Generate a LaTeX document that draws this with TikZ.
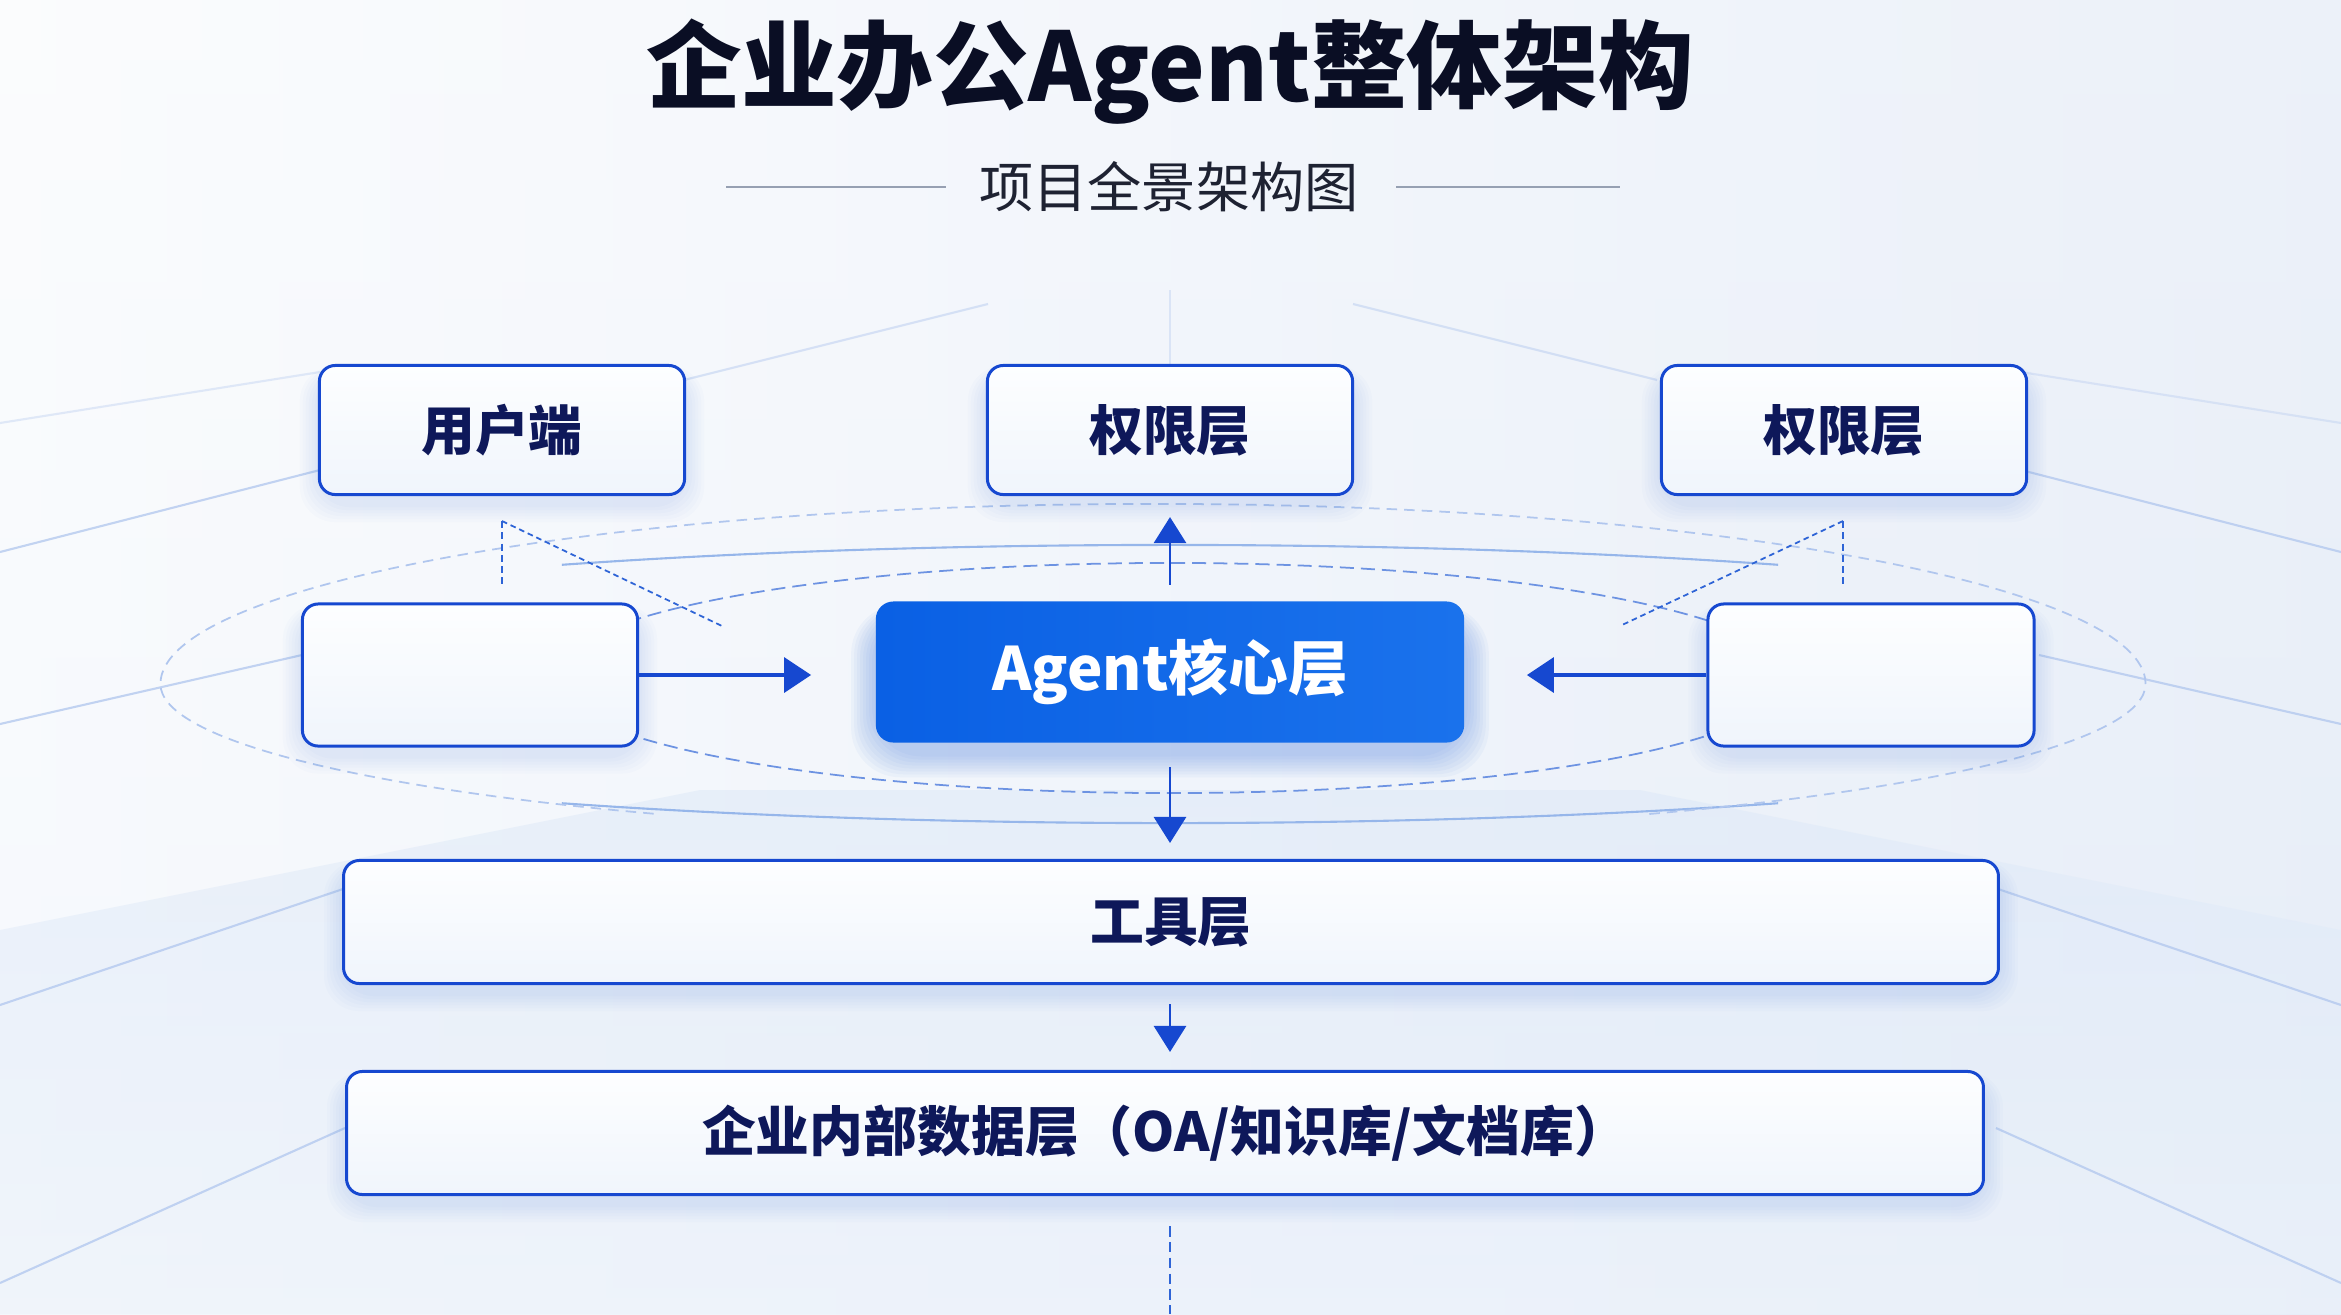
\documentclass[tikz,border=0pt]{standalone}
\usepackage{fontspec}
\setmainfont{Noto Sans CJK SC}
\usetikzlibrary{arrows.meta}
\usetikzlibrary{calc}
\pgfdeclarelayer{fond}
\pgfdeclarelayer{halo}
\pgfsetlayers{fond,halo,main}

\definecolor{bleu}{RGB}{22,72,208}
\definecolor{bleucoeur}{RGB}{10,96,228}
\definecolor{bleucoeurclair}{RGB}{26,114,236}
\definecolor{marine}{RGB}{14,24,90}
\definecolor{noirtitre}{RGB}{10,14,36}
\definecolor{grissous}{RGB}{30,34,50}
\definecolor{gristrait}{RGB}{150,160,178}
\definecolor{bleuclair}{RGB}{176,198,238}
\definecolor{bleuovale}{RGB}{150,182,234}
\definecolor{bleupoint}{RGB}{46,100,214}
\definecolor{fondhaut}{RGB}{247,249,252}
\definecolor{fondbas}{RGB}{236,242,250}
\definecolor{fonddroite}{RGB}{226,234,247}
\definecolor{sol}{RGB}{220,232,248}
\definecolor{boitehaut}{RGB}{253,254,255}
\definecolor{boitebas}{RGB}{240,245,252}
\definecolor{halobleu}{RGB}{80,130,225}

\begin{document}
\begin{tikzpicture}[x=0.01cm,y=-0.01cm]
\tikzstyle{couche}=[rectangle,draw=bleu,line width=0.85pt,rounded corners=4.5pt,
top color=boitehaut,bottom color=boitebas,text=marine,inner sep=0pt,
font=\bfseries\fontsize{15.3pt}{18pt}\selectfont]
\tikzstyle{coeur}=[rectangle,rounded corners=5pt,left color=bleucoeur,right color=bleucoeurclair,
text=white,inner sep=0pt,font=\bfseries\fontsize{17pt}{20pt}\selectfont]
\tikzstyle{rayon}=[bleuclair,line width=0.6pt,opacity=0.75]
\tikzstyle{pointille}=[bleupoint,line width=0.5pt,dash pattern=on 2pt off 1.2pt]

\useasboundingbox (0,0) rectangle (2341,1314);

% fond, rayons et ovales
\begin{pgfonlayer}{fond}
\shade[top color=fondhaut,bottom color=fondbas] (0,0) rectangle (2341,1314);
\shade[left color=white,right color=fonddroite,opacity=0.5] (0,0) rectangle (2341,1314);
\shade[top color=sol,bottom color=fondbas,opacity=0.5]
  (0,930) -- (700,790) -- (1640,790) -- (2341,930) -- (2341,1314) -- (0,1314) -- cycle;
\foreach \ya/\xb/\yb in {552/320/470, 724/302/655, 1005/343/889, 1283/345/1128}{
  \draw[rayon] (0,\ya) -- (\xb,\yb);
  \draw[rayon] (2341,\ya) -- (2341-\xb,\yb);
}
\draw[rayon,opacity=.35] (0,423) -- (320,372);
\draw[rayon,opacity=.35] (2341,423) -- (2021,372);
\draw[rayon,opacity=.45] (684,380) -- (988,304);
\draw[rayon,opacity=.45] (1657,380) -- (1353,304);
\draw[rayon,opacity=.35] (1170,290) -- (1170,366);
\draw[bleuovale,line width=0.6pt] (1170,684) ++(59:11.8cm and 1.39cm)
  arc[start angle=59,end angle=121,x radius=11.8cm,y radius=1.39cm];
\draw[bleuovale,line width=0.6pt] (1170,684) ++(239:11.8cm and 1.39cm)
  arc[start angle=239,end angle=301,x radius=11.8cm,y radius=1.39cm];
\draw[bleuclair,line width=0.5pt,dash pattern=on 3pt off 2pt] (1153,684) ++(0:9.92cm and 1.8cm)
  arc[start angle=0,end angle=180,x radius=9.92cm,y radius=1.8cm]
  arc[start angle=180,end angle=240,x radius=9.92cm,y radius=1.5cm];
\draw[bleuclair,line width=0.5pt,dash pattern=on 3pt off 2pt] (1153,684) ++(300:9.92cm and 1.5cm)
  arc[start angle=300,end angle=360,x radius=9.92cm,y radius=1.5cm];
\draw[bleupoint!70!white,line width=0.5pt,dash pattern=on 4pt off 2pt] (1170,678)
  ellipse[x radius=6.2cm,y radius=1.15cm];
\end{pgfonlayer}

% titre
\node[text=noirtitre,font=\bfseries\fontsize{27.2pt}{32pt}\selectfont] (titre) at (1170,72) {企业办公Agent整体架构};
\node[text=grissous,inner sep=0pt,font=\fontsize{15.4pt}{18pt}\selectfont] (soustitre) at (1169,187) {项目全景架构图};
\draw[gristrait,line width=0.6pt] ([xshift=-0.33cm]soustitre.west) -- ++(-220,0);
\draw[gristrait,line width=0.6pt] ([xshift=0.37cm]soustitre.east) -- ++(224,0);

% boites
\node[couche,minimum width=3.65cm,minimum height=1.29cm] (user) at (502,430) {用户端};
\node[couche,minimum width=3.65cm,minimum height=1.29cm] (permmid) at (1170,430) {权限层};
\node[couche,minimum width=3.65cm,minimum height=1.29cm] (permright) at (1844,430) {权限层};
\node[couche,minimum width=3.35cm,minimum height=1.42cm] (left) at (470,675) {};
\node[couche,minimum width=3.26cm,minimum height=1.42cm] (right) at (1871,675) {};
\node[coeur,minimum width=5.88cm,minimum height=1.41cm] (core) at (1170,672) {Agent核心层};
\node[couche,minimum width=16.54cm,minimum height=1.23cm] (tool) at (1171,922) {工具层};
\node[couche,minimum width=16.36cm,minimum height=1.23cm] (data) at (1165,1133) {企业内部数据层（OA/知识库/文档库）};

% halos
\begin{pgfonlayer}{halo}
\foreach \n in {user,permmid,permright,left,right,tool,data}
  \foreach \k in {1,...,6}
    \fill[halobleu,opacity=0.022,rounded corners=10pt]
      ($(\n.south west)+(-3*\k,3*\k+8)$) rectangle ($(\n.north east)+(3*\k,-\k+8)$);
\foreach \k in {1,...,8}
  \fill[halobleu,opacity=0.05,rounded corners=14pt]
    ($(core.south west)+(-3*\k,3*\k+10)$) rectangle ($(core.north east)+(3*\k,-\k+12)$);
\end{pgfonlayer}

% pointilles
\coordinate (hubL) at (502,521);
\coordinate (tipL) at (722,626);
\coordinate (hubR) at (1843,521);
\coordinate (tipR) at (1622,625);
\draw[pointille] (hubL) -- (hubL |- left.north) [shorten >=0.14cm];
\draw[pointille,dash pattern=on 1.6pt off 1.1pt] (hubL) -- (tipL);
\draw[pointille] (hubR) -- (hubR |- right.north) [shorten >=0.14cm];
\draw[pointille,dash pattern=on 1.6pt off 1.1pt] (hubR) -- (tipR);
\coordinate (basfin) at (1170,1314);
\draw[pointille,line width=0.4pt,dash pattern=on 3pt off 1.5pt,shorten <=0.3cm] (data.south -| basfin) -- (basfin);

% fleches
\tikzstyle{fleche}=[-{Triangle[length=0.27cm,width=0.35cm]},bleu,line width=1pt]
\tikzstyle{flechev}=[-{Triangle[length=0.26cm,width=0.32cm]},bleu,line width=0.8pt]
\draw[fleche,shorten >=0.64cm] (left.east) -- (left.east -| core.west);
\draw[fleche,shorten >=0.62cm] (right.west) -- (right.west -| core.east);
\draw[flechev,shorten <=0.16cm,shorten >=0.21cm] (core.north) -- (permmid.south);
\draw[flechev,shorten <=0.24cm,shorten >=0.16cm] (core.south) -- (core.south |- tool.north);
\draw[flechev,shorten <=0.19cm,shorten >=0.18cm] (core.south |- tool.south) -- (core.south |- data.north);

\end{tikzpicture}
\end{document}
